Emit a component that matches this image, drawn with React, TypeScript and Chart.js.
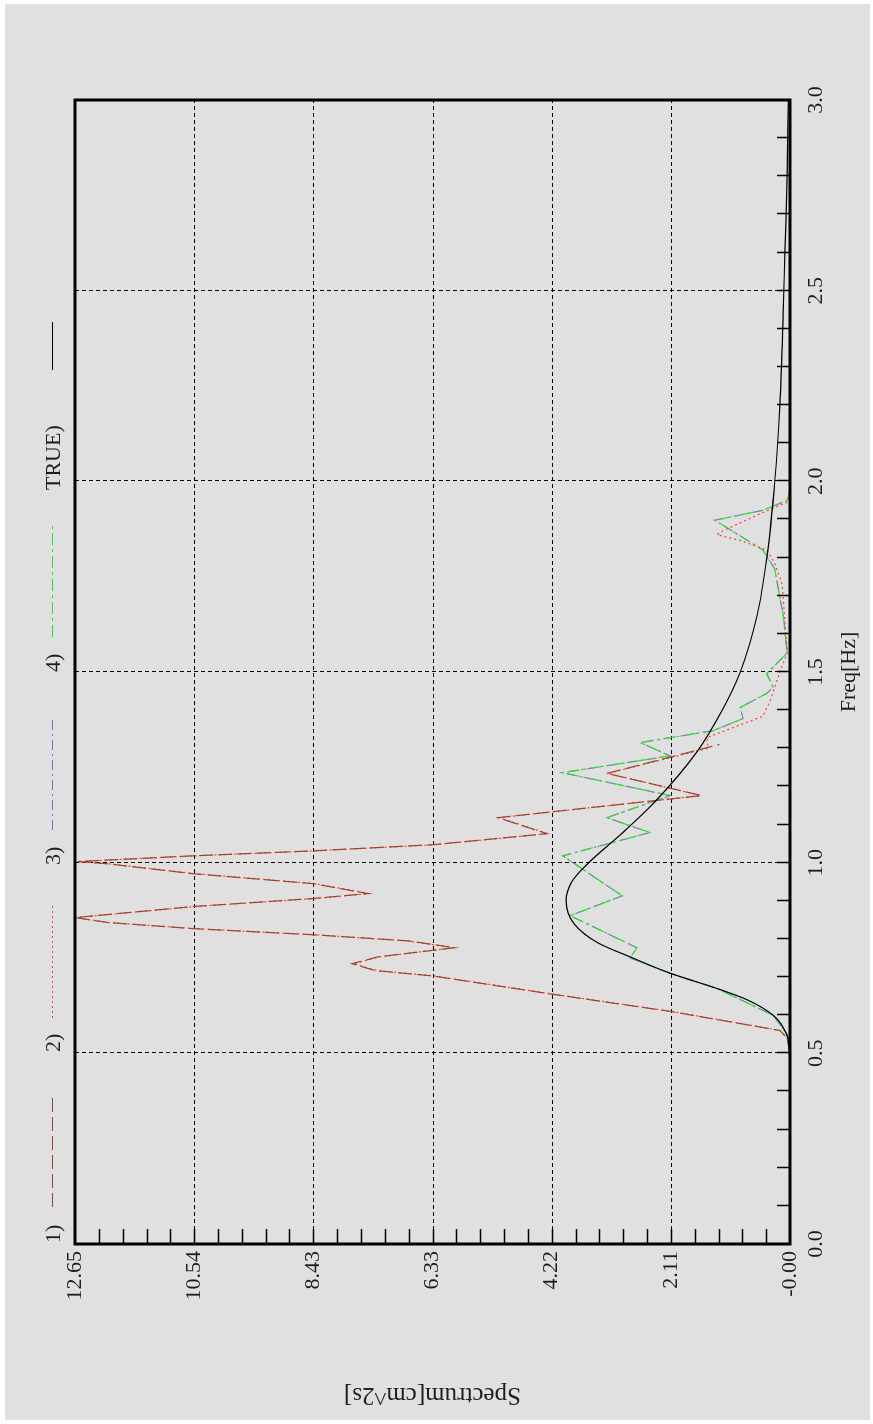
import React, { useEffect, useRef } from "react";
import { Chart, registerables } from "chart.js";

Chart.register(...registerables);

// ---------- data ----------
const freqTrue = [0, 0.45, 0.5, 0.55, 0.6, 0.64, 0.67, 0.71, 0.75, 0.79, 0.84, 0.9, 0.95, 1.0, 1.08, 1.155, 1.29, 1.4, 1.5, 1.65, 1.8, 2.0, 2.2, 2.44, 2.6, 2.8, 3.0];
const specTrue = [0, 0, 0.01, 0.06, 0.3, 0.75, 1.29, 2.12, 2.78, 3.4, 3.82, 3.96, 3.86, 3.56, 2.95, 2.42, 1.65, 1.2, 0.88, 0.58, 0.41, 0.27, 0.18, 0.12, 0.09, 0.05, 0.03];

const freqS1 = [0, 0.5, 0.54, 0.56, 0.61, 0.656, 0.703, 0.717, 0.735, 0.753, 0.777, 0.795, 0.811, 0.827, 0.843, 0.856, 0.885, 0.906, 0.919, 0.945, 0.971, 0.997, 1.003, 1.018, 1.031, 1.047, 1.076, 1.118, 1.176, 1.234, 1.31];
const specS1 = [0, 0, 0.05, 0.18, 2.12, 4.25, 6.32, 7.34, 7.75, 7.29, 5.93, 6.76, 8.44, 10.56, 12.07, 12.65, 10.56, 8.44, 7.47, 8.44, 10.56, 12.07, 12.6, 10.56, 8.44, 6.33, 4.3, 5.17, 1.56, 3.24, 1.25];

const freqS2 = [0, 0.5, 0.54, 0.56, 0.61, 0.656, 0.703, 0.717, 0.735, 0.753, 0.777, 0.795, 0.811, 0.827, 0.843, 0.856, 0.885, 0.906, 0.919, 0.945, 0.971, 0.997, 1.003, 1.018, 1.031, 1.047, 1.076, 1.118, 1.176, 1.234, 1.3, 1.328, 1.384, 1.425, 1.5, 1.55, 1.635, 1.73, 1.785, 1.82, 1.845, 1.86, 1.87, 1.915, 1.945, 1.97, 3.0];
const specS2 = [0, 0, 0.05, 0.18, 2.1, 4.22, 6.3, 7.3, 7.72, 7.27, 5.95, 6.78, 8.42, 10.5, 12.05, 12.65, 10.52, 8.4, 7.45, 8.4, 10.5, 12.05, 12.6, 10.52, 8.4, 6.3, 4.28, 5.15, 1.58, 3.22, 1.45, 1.47, 0.48, 0.35, 0.18, 0.05, 0.09, 0.14, 0.27, 0.41, 0.88, 1.29, 1.19, 0.53, 0.05, 0, 0];

const freqS34 = [0, 0.5, 0.55, 0.6, 0.67, 0.71, 0.75, 0.777, 0.861, 0.913, 1.018, 1.079, 1.118, 1.176, 1.236, 1.28, 1.315, 1.346, 1.378, 1.407, 1.444, 1.46, 1.496, 1.55, 1.65, 1.695, 1.77, 1.82, 1.898, 1.924, 1.95, 1.976, 3.0];
const specS3 = [0, 0, 0.05, 0.3, 1.29, 2.12, 2.83, 2.71, 3.89, 2.97, 4.02, 2.48, 3.24, 2.12, 4.03, 2.12, 2.65, 1.36, 0.83, 0.88, 0.41, 0.3, 0.41, 0.05, 0.12, 0.18, 0.27, 0.48, 1.33, 0.48, 0.05, 0, 0];
const specS4 = [0, 0, 0.05, 0.3, 1.29, 2.12, 2.83, 2.71, 3.89, 2.97, 4.02, 2.48, 3.24, 2.12, 4.03, 2.12, 2.65, 1.36, 0.83, 0.88, 0.41, 0.3, 0.41, 0.05, 0.12, 0.18, 0.27, 0.48, 1.33, 0.48, 0.05, 0, 0];

const xTickValues = [0, 0.5, 1.0, 1.5, 2.0, 2.5, 3.0];
const xTickLabels = ["0.0", "0.5", "1.0", "1.5", "2.0", "2.5", "3.0"];
const yTickValues = [0, 2.1083, 4.2167, 6.325, 8.4333, 10.5417, 12.65];
const yTickLabels = ["-0.00", "2.11", "4.22", "6.33", "8.43", "10.54", "12.65"];

const legendLabels = ["1)", "2)", "3)", "4)", "TRUE)"];
const xTitle = "Freq[Hz]";
const yTitle = "Spectrum[cm^2s]";

// ---------- styles ----------
const W = 1424;
const H = 873;
const FAMILY = "'Liberation Serif', 'Times New Roman', serif";
const FONT = `22px ${FAMILY}`;
const YTITLE_FONT = `25px ${FAMILY}`;
const TEXT = "#1e1e1e";
const C1 = "#9a4530";
const C2 = "#ff3a3a";
const C3 = "#8a6ad0";
const C4 = "#2ee02e";
const CT = "#000000";
const D1 = [14, 5];
const D2 = [2, 3];
const D3 = [10, 4, 2, 4];
const D4 = [12, 4, 3, 4];

const legendStyles = [
  { color: C1, dash: D1, tx: 181, l0: 217, l1: 331 },
  { color: C2, dash: D2, tx: 372, l0: 406, l1: 519 },
  { color: C3, dash: D3, tx: 559, l0: 594, l1: 707 },
  { color: C4, dash: D4, tx: 752, l0: 787, l1: 899 },
  { color: CT, dash: [], tx: 934, l0: 1054, l1: 1102 },
];

const xy = (xs: number[], ys: number[]) => xs.map((x, i) => ({ x, y: ys[i] }));

const decorPlugin = {
  id: "decor",
  beforeDraw(chart: any) {
    const ctx = chart.ctx;
    ctx.save();
    ctx.fillStyle = "#ffffff";
    ctx.fillRect(0, 0, W, H);
    ctx.fillStyle = "#e0e0e0";
    ctx.fillRect(4, 5, W - 8, H - 8);
    ctx.restore();
  },
  beforeDatasetsDraw(chart: any) {
    const { ctx, chartArea: a, scales } = chart;
    const x = scales.x;
    const y = scales.y;
    ctx.save();
    ctx.strokeStyle = "#000";
    ctx.lineWidth = 1;
    ctx.setLineDash([4, 3]);
    for (const v of xTickValues) {
      const px = Math.round(x.getPixelForValue(v)) + 0.5;
      if (px < a.left + 3 || px > a.right - 3) continue;
      ctx.beginPath();
      ctx.moveTo(px, a.top);
      ctx.lineTo(px, a.bottom);
      ctx.stroke();
    }
    for (const v of yTickValues) {
      const py = Math.round(y.getPixelForValue(v)) + 0.5;
      if (py < a.top + 3 || py > a.bottom - 3) continue;
      ctx.beginPath();
      ctx.moveTo(a.left, py);
      ctx.lineTo(a.right, py);
      ctx.stroke();
    }
    ctx.restore();
  },
  afterDatasetsDraw(chart: any) {
    const { ctx, chartArea: a, scales } = chart;
    const x = scales.x;
    const y = scales.y;
    ctx.save();
    ctx.strokeStyle = "#000";
    ctx.setLineDash([]);
    ctx.lineWidth = 1.5;
    for (let i = 1; i < 30; i++) {
      const px = Math.round(x.getPixelForValue(i * 0.1)) + 0.5;
      ctx.beginPath();
      ctx.moveTo(px, a.bottom);
      ctx.lineTo(px, a.bottom - 13);
      ctx.stroke();
    }
    const ymax = yTickValues[yTickValues.length - 1];
    for (let k = 1; k < 30; k++) {
      const py = Math.round(y.getPixelForValue((ymax * k) / 30)) + 0.5;
      ctx.beginPath();
      ctx.moveTo(a.left, py);
      ctx.lineTo(a.left + 15, py);
      ctx.stroke();
    }
    ctx.lineWidth = 3;
    ctx.strokeRect(a.left, a.top, a.right - a.left, a.bottom - a.top);
    ctx.restore();
  },
  afterDraw(chart: any) {
    const { ctx, chartArea: a } = chart;
    ctx.save();
    ctx.font = FONT;
    ctx.fillStyle = TEXT;
    legendLabels.forEach((lab, i) => {
      const s = legendStyles[i];
      ctx.textAlign = "left";
      ctx.textBaseline = "middle";
      ctx.fillText(lab, s.tx, 54);
      ctx.strokeStyle = s.color;
      ctx.lineWidth = 1;
      ctx.setLineDash(s.dash);
      ctx.beginPath();
      ctx.moveTo(s.l0, 52.5);
      ctx.lineTo(s.l1, 52.5);
      ctx.stroke();
    });
    ctx.setLineDash([]);
    ctx.textAlign = "center";
    ctx.textBaseline = "middle";
    ctx.fillText(xTitle, (a.left + a.right) / 2, 849);
    ctx.font = YTITLE_FONT;
    ctx.translate(29, (a.top + a.bottom) / 2);
    ctx.rotate(-Math.PI / 2);
    ctx.fillText(yTitle, 0, 0);
    ctx.restore();
  },
};

export default function App() {
  const ref = useRef<HTMLCanvasElement | null>(null);

  useEffect(() => {
    if (!ref.current) return;
    const chart = new Chart(ref.current, {
      type: "line",
      data: {
        datasets: [
          { label: "TRUE)", data: xy(freqTrue, specTrue), borderColor: CT, borderWidth: 1.2, pointRadius: 0, cubicInterpolationMode: "monotone", fill: false },
          { label: "1)", data: xy(freqS1, specS1), borderColor: C1, borderDash: D1, borderWidth: 1.2, pointRadius: 0, tension: 0, fill: false },
          { label: "2)", data: xy(freqS2, specS2), borderColor: C2, borderDash: D2, borderWidth: 1.2, pointRadius: 0, tension: 0, fill: false },
          { label: "4)", data: xy(freqS34, specS4), borderColor: C4, borderDash: D4, borderWidth: 1.2, pointRadius: 0, tension: 0, fill: false },
          { label: "3)", data: xy(freqS34, specS3), borderColor: C3, borderDash: D3, borderWidth: 1.2, pointRadius: 0, tension: 0, fill: false },
        ],
      },
      options: {
        responsive: false,
        devicePixelRatio: 1,
        animation: false,
        events: [],
        layout: { padding: { left: 0, top: 75, right: W - 1324, bottom: 0 } },
        plugins: { legend: { display: false }, tooltip: { enabled: false }, title: { display: false } },
        scales: {
          x: {
            type: "linear",
            min: 0,
            max: 3,
            grid: { display: false, drawTicks: false },
            border: { display: false },
            afterBuildTicks: (s: any) => {
              s.ticks = xTickValues.map((v) => ({ value: v }));
            },
            afterFit: (s: any) => {
              s.height = H - 790;
            },
            ticks: {
              autoSkip: false,
              maxRotation: 0,
              minRotation: 0,
              padding: 13,
              color: TEXT,
              font: { family: FAMILY, size: 22 },
              callback: (_v: any, i: number) => xTickLabels[i],
            },
          },
          y: {
            type: "linear",
            min: 0,
            max: 12.65,
            grid: { display: false, drawTicks: false },
            border: { display: false },
            afterBuildTicks: (s: any) => {
              s.ticks = yTickValues.map((v) => ({ value: v }));
            },
            afterFit: (s: any) => {
              s.width = 180;
            },
            ticks: {
              autoSkip: false,
              padding: 7,
              color: TEXT,
              font: { family: FAMILY, size: 22 },
              callback: (_v: any, i: number) => yTickLabels[i],
            },
          },
        },
      },
      plugins: [decorPlugin],
    } as any);
    return () => chart.destroy();
  }, []);

  return (
    <div style={{ position: "fixed", left: 0, top: 0, width: 873, height: 1424, overflow: "hidden", background: "#fff" }}>
      <div
        style={{
          position: "absolute",
          left: 0,
          top: 0,
          width: W,
          height: H,
          transformOrigin: "0 0",
          transform: `translate(0px, ${W}px) rotate(-90deg)`,
        }}
      >
        <canvas ref={ref} width={W} height={H} style={{ display: "block", width: W, height: H }} />
      </div>
    </div>
  );
}
